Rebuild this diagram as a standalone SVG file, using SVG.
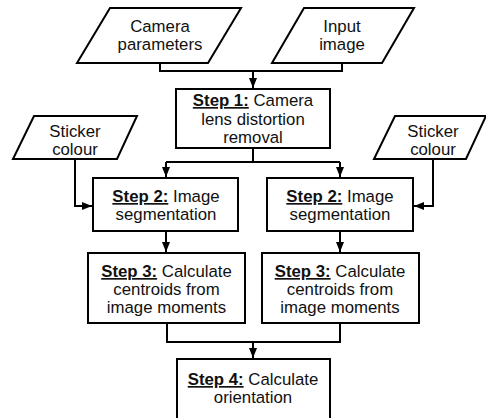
<svg xmlns="http://www.w3.org/2000/svg" width="486" height="418" viewBox="0 0 486 418">
  <style>
    .shape { fill: #ffffff; stroke: #000000; stroke-width: 2; }
    .wire { fill: none; stroke: #000000; stroke-width: 2; }
    text { font-family: "Liberation Sans", Arial, sans-serif; font-size: 16.8px; fill: #111111; text-anchor: middle; }
    .step { font-weight: bold; text-decoration: underline; }
  </style>
  <defs>
    <marker id="arrow" markerUnits="userSpaceOnUse" markerWidth="10" markerHeight="10" viewBox="0 0 10 8" refX="10" refY="4" orient="auto">
      <path d="M0,0 L10,4 L0,8 Z" fill="#000000"/>
    </marker>
  </defs>
  <rect x="0" y="0" width="486" height="418" fill="#ffffff"/>

  <!-- connectors -->
  <g id="connectors">
    <path class="wire" d="M160,63 V71 H342 V63"/>
    <path class="wire" d="M253,71 V88" marker-end="url(#arrow)"/>
    <path class="wire" d="M253,148 V162"/>
    <path class="wire" d="M166,162 H340"/>
    <path class="wire" d="M166,162 V177" marker-end="url(#arrow)"/>
    <path class="wire" d="M340,162 V177" marker-end="url(#arrow)"/>
    <path class="wire" d="M75,159 V206 H92" marker-end="url(#arrow)"/>
    <path class="wire" d="M433,159 V206 H414" marker-end="url(#arrow)"/>
    <path class="wire" d="M166,231 V252" marker-end="url(#arrow)"/>
    <path class="wire" d="M340,231 V252" marker-end="url(#arrow)"/>
    <path class="wire" d="M167,323 V342 H340 V323"/>
    <path class="wire" d="M253,342 V358" marker-end="url(#arrow)"/>
  </g>

  <!-- inputs -->
  <g id="camera-parameters">
    <polygon class="shape" points="110,8 241,8 208,63 77,63"/>
    <text x="160" y="32">Camera</text>
    <text x="160" y="50">parameters</text>
  </g>
  <g id="input-image">
    <polygon class="shape" points="304,8 414,8 382,63 272,63"/>
    <text x="342" y="32">Input</text>
    <text x="342" y="50">image</text>
  </g>
  <g id="sticker-colour-left">
    <polygon class="shape" points="34,116 137,116 117,159 13,159"/>
    <text x="75" y="137">Sticker</text>
    <text x="75" y="155">colour</text>
  </g>
  <g id="sticker-colour-right">
    <polygon class="shape" points="395,116 486,116 466,159 374,159"/>
    <text x="433" y="137">Sticker</text>
    <text x="433" y="155">colour</text>
  </g>

  <!-- processing steps -->
  <g id="step1">
    <rect class="shape" x="176" y="89" width="154" height="59"/>
    <text x="253" y="106"><tspan class="step">Step 1:</tspan> Camera</text>
    <text x="253" y="125">lens distortion</text>
    <text x="253" y="143">removal</text>
  </g>
  <g id="step2-left">
    <rect class="shape" x="93" y="178" width="145" height="53"/>
    <text x="166" y="202"><tspan class="step">Step 2:</tspan> Image</text>
    <text x="166" y="220">segmentation</text>
  </g>
  <g id="step2-right">
    <rect class="shape" x="267" y="178" width="146" height="53"/>
    <text x="340" y="202"><tspan class="step">Step 2:</tspan> Image</text>
    <text x="340" y="220">segmentation</text>
  </g>
  <g id="step3-left">
    <rect class="shape" x="88" y="253" width="157" height="70"/>
    <text x="166.5" y="277"><tspan class="step">Step 3:</tspan> Calculate</text>
    <text x="166.5" y="295">centroids from</text>
    <text x="166.5" y="313">image moments</text>
  </g>
  <g id="step3-right">
    <rect class="shape" x="262" y="253" width="157" height="70"/>
    <text x="340" y="277"><tspan class="step">Step 3:</tspan> Calculate</text>
    <text x="340" y="295">centroids from</text>
    <text x="340" y="313">image moments</text>
  </g>
  <g id="step4">
    <rect class="shape" x="177" y="359" width="153" height="62"/>
    <text x="253" y="385"><tspan class="step">Step 4:</tspan> Calculate</text>
    <text x="253" y="403">orientation</text>
  </g>
</svg>
